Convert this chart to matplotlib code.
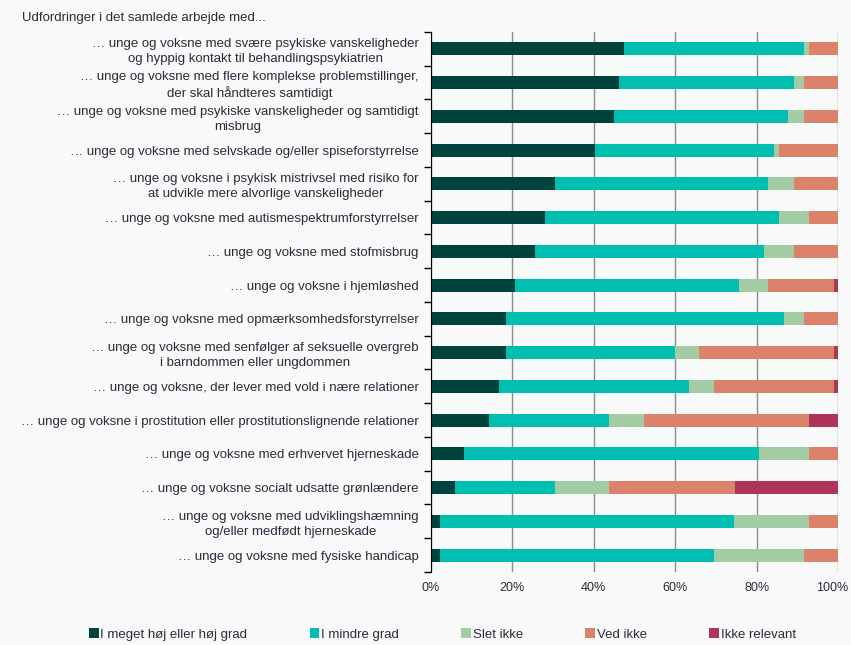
import matplotlib.pyplot as plt
import matplotlib.transforms as mtransforms
import numpy as np
from matplotlib.patches import Patch
from matplotlib.ticker import FixedLocator, PercentFormatter

plt.rcParams["font.family"] = ["Liberation Sans", "DejaVu Sans"]

categories = [
    "… unge og voksne med svære psykiske vanskeligheder\nog hyppig kontakt til behandlingspsykiatrien",
    "… unge og voksne med flere komplekse problemstillinger,\nder skal håndteres samtidigt",
    "… unge og voksne med psykiske vanskeligheder og samtidigt\nmisbrug",
    "… unge og voksne med selvskade og/eller spiseforstyrrelse",
    "… unge og voksne i psykisk mistrivsel med risiko for\nat udvikle mere alvorlige vanskeligheder",
    "… unge og voksne med autismespektrumforstyrrelser",
    "… unge og voksne med stofmisbrug",
    "… unge og voksne i hjemløshed",
    "… unge og voksne med opmærksomhedsforstyrrelser",
    "… unge og voksne med senfølger af seksuelle overgreb\ni barndommen eller ungdommen",
    "… unge og voksne, der lever med vold i nære relationer",
    "… unge og voksne i prostitution eller prostitutionslignende relationer",
    "… unge og voksne med erhvervet hjerneskade",
    "… unge og voksne socialt udsatte grønlændere",
    "… unge og voksne med udviklingshæmning\nog/eller medfødt hjerneskade",
    "… unge og voksne med fysiske handicap",
]

series_names = ["I meget høj eller høj grad", "I mindre grad", "Slet ikke",
                "Ved ikke", "Ikke relevant"]

hoej_grad = [47.5, 46.2, 45.0, 40.2, 30.4, 28.0, 25.5, 20.7, 18.3, 18.3, 16.8, 14.3, 8.2, 5.8, 2.2, 2.2]
mindre_grad = [44.2, 43.1, 42.8, 44.0, 52.5, 57.4, 56.2, 54.9, 68.5, 41.6, 46.7, 29.5, 72.3, 24.6, 72.2, 67.4]
slet_ikke = [1.2, 2.3, 3.9, 1.4, 6.3, 7.5, 7.5, 7.3, 4.9, 5.9, 6.0, 8.6, 12.4, 13.4, 18.5, 22.1]
ved_ikke = [7.1, 8.4, 8.3, 14.4, 10.8, 7.1, 10.8, 16.0, 8.3, 33.1, 29.4, 40.5, 7.1, 30.8, 7.1, 8.3]
ikke_relevant = [0, 0, 0, 0, 0, 0, 0, 1.1, 0, 1.1, 1.1, 7.1, 0, 25.4, 0, 0]

colors = ["#00423c", "#00bfb0", "#a3cca4", "#dd826a", "#b03458"]
bg = "#f8f9f9"
text_col = "#2e2a3a"
fs = 9.5

fig = plt.figure(figsize=(8.51, 6.45), dpi=100, facecolor=bg)
ax = fig.add_axes([0.5065, 0.1132, 0.4782, 0.8372], facecolor=bg)

y = np.arange(len(categories))
left = np.zeros(len(categories))
for name, vals, col in zip(series_names,
                           [hoej_grad, mindre_grad, slet_ikke, ved_ikke, ikke_relevant],
                           colors):
    vals = np.array(vals)
    ax.barh(y, vals, left=left, height=0.38, color=col, label=name, zorder=3)
    left += vals

ax.set_xlim(0, 100)
ax.set_ylim(len(categories) - 0.5, -0.5)
ax.set_xticks([0, 20, 40, 60, 80, 100])
ax.xaxis.set_major_formatter(PercentFormatter(decimals=0))
ax.tick_params(axis="x", length=0, pad=7, labelsize=9, labelcolor=text_col)
# nudge "100%" a little so it stays inside the figure
last = ax.get_xticklabels()[-1]
last.set_transform(last.get_transform()
                   + mtransforms.ScaledTranslation(-4 / 72, 0, fig.dpi_scale_trans))

ax.set_yticks(y)
ax.set_yticklabels(categories, fontsize=fs, color=text_col, multialignment="center",
                   linespacing=1.3)
ax.tick_params(axis="y", which="major", length=0, pad=9)
ax.yaxis.set_minor_locator(FixedLocator(np.arange(-0.5, len(categories), 1)))
ax.tick_params(axis="y", which="minor", length=5, width=1, color="black", direction="out")

ax.grid(axis="x", color="#8c8c8c", linewidth=1, zorder=0)
for s in ["top", "right", "bottom"]:
    ax.spines[s].set_visible(False)
ax.spines["left"].set_color("black")
ax.spines["left"].set_zorder(4)

fig.text(0.026, 0.972, "Udfordringer i det samlede arbejde med...", fontsize=fs,
         color=text_col, va="center", ha="left")

handles = [Patch(facecolor=c, label=n) for c, n in zip(colors, series_names)]
fig.legend(handles=handles, loc="center", bbox_to_anchor=(0.52, 0.016), ncol=5,
           frameon=False, fontsize=fs, handlelength=0.75, handleheight=0.75,
           handletextpad=0.15, columnspacing=4.7, labelcolor=text_col)

fig.savefig("out.png", dpi=100, facecolor=bg)
